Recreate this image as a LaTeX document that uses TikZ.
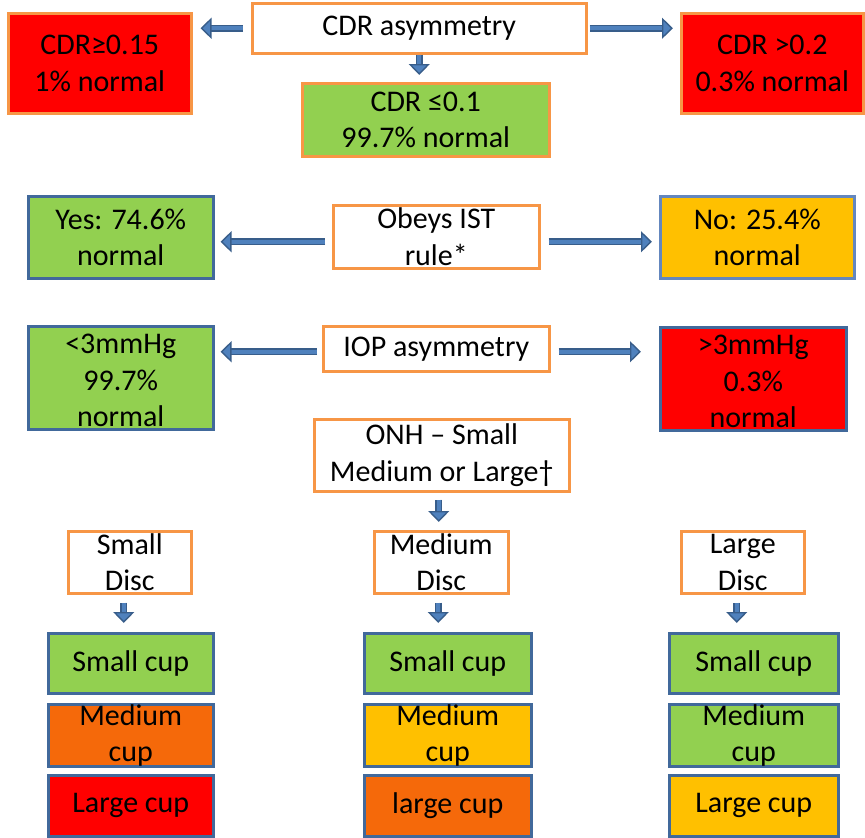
\documentclass[tikz,border=0pt]{standalone}
\usepackage{fontspec}
\setmainfont{Carlito}
\usetikzlibrary{arrows.meta}
\definecolor{bord}{RGB}{247,150,70}
\definecolor{bluebord}{RGB}{65,105,155}
\definecolor{lightbluebord}{RGB}{100,135,190}
\definecolor{gr}{RGB}{146,208,80}
\definecolor{rd}{RGB}{255,0,0}
\definecolor{amb}{RGB}{255,192,0}
\definecolor{org}{RGB}{245,105,10}
\definecolor{arrdark}{RGB}{56,93,138}
\definecolor{arrfill}{RGB}{79,129,189}
\begin{document}
\begin{tikzpicture}[x=1pt,y=-1pt,
  box/.style={draw=bord, line width=2.5pt, fill=white, inner sep=0pt, anchor=north west},
  bbox/.style={box, draw=bluebord},
  txt/.style={align=center, inner sep=0pt, font=\fontsize{30}{36.5}\selectfont},
  arr/.style={draw=arrdark, line width=1.4pt, double=arrfill, double distance=4.4pt,
    -{Triangle[length=11pt,width=21pt,fill=arrfill]}}
]
\useasboundingbox (0,0) rectangle (865,838);

% row 1
\node[box, minimum width=334pt, minimum height=50pt] (cdr) at (251,2) {};
\node[box, fill=rd, minimum width=183pt, minimum height=100pt] (cdrl) at (7,12) {};
\node[box, fill=rd, minimum width=182pt, minimum height=100pt] (cdrr) at (680,12) {};
\node[box, fill=gr, minimum width=247pt, minimum height=73pt] (cdrm) at (301,82) {};
\node[txt] (cdr-t) at (cdr.center) {CDR asymmetry};
\node[txt] (cdrl-t) at (cdrl.center) {CDR≥0.15\\1\% normal};
\node[txt] (cdrr-t) at (cdrr.center) {CDR >0.2\\0.3\% normal};
\node[txt] (cdrm-t) at (cdrm.center) {CDR ≤0.1\\99.7\% normal};

% row 2
\node[bbox, fill=gr, minimum width=185pt, minimum height=82pt] (yes) at (27,195) {};
\node[box, minimum width=206pt, minimum height=63pt] (ist) at (332,204) {};
\node[bbox, draw=lightbluebord, fill=amb, minimum width=194pt, minimum height=82pt] (no) at (659,195) {};
\node[txt] (yes-t) at (yes.center) {Yes: 74.6\%\\normal};
\node[txt] (ist-t) at (ist.center) {Obeys IST\\rule*};
\node[txt] (no-t) at (no.center) {No: 25.4\%\\normal};

% row 3
\node[bbox, fill=gr, minimum width=185pt, minimum height=103pt] (lo) at (27,325) {};
\node[box, minimum width=226pt, minimum height=45pt] (iop) at (322,325) {};
\node[bbox, fill=rd, minimum width=186pt, minimum height=103pt] (hi) at (659,326) {};
\node[txt] (lo-t) at ([yshift=-3pt]lo.center) {<3mmHg\\99.7\%\\normal};
\node[txt] (iop-t) at (iop.center) {IOP asymmetry};
\node[txt] (hi-t) at ([yshift=-3pt]hi.center) {>3mmHg\\0.3\%\\normal};

% ONH
\node[box, minimum width=255pt, minimum height=72pt] (onh) at (313,418) {};
\node[txt] (onh-t) at (onh.center) {ONH – Small\\Medium or Large†};

% discs
\node[box, minimum width=123pt, minimum height=62pt] (sd) at (67,530) {};
\node[box, minimum width=134pt, minimum height=62pt] (md) at (373,530) {};
\node[box, minimum width=123pt, minimum height=62pt] (ld) at (680,530) {};
\node[txt] (sd-t) at (sd.center) {Small\\Disc};
\node[txt] (md-t) at (md.center) {Medium\\Disc};
\node[txt] (ld-t) at (ld.center) {Large\\Disc};

% cups
\node[bbox, fill=gr, minimum width=165pt, minimum height=60pt] (s1) at (47,632) {};
\node[bbox, fill=org, minimum width=165pt, minimum height=62pt] (m1) at (47,703) {};
\node[bbox, fill=rd, minimum width=165pt, minimum height=61pt] (l1) at (47,774) {};
\node[bbox, fill=gr, minimum width=167pt, minimum height=60pt] (s2) at (363,632) {};
\node[bbox, fill=amb, minimum width=167pt, minimum height=62pt] (m2) at (363,703) {};
\node[bbox, fill=org, minimum width=167pt, minimum height=61pt] (l2) at (363,774) {};
\node[bbox, fill=gr, minimum width=169pt, minimum height=60pt] (s3) at (668,632) {};
\node[bbox, fill=gr, minimum width=169pt, minimum height=62pt] (m3) at (668,703) {};
\node[bbox, fill=amb, minimum width=169pt, minimum height=61pt] (l3) at (668,774) {};
\node[txt] (s1-t) at (s1.center) {Small cup};
\node[txt] (m1-t) at (m1.center) {Medium\\cup};
\node[txt] (l1-t) at (l1.center) {Large cup};
\node[txt] (s2-t) at (s2.center) {Small cup};
\node[txt] (m2-t) at (m2.center) {Medium\\cup};
\node[txt] (l2-t) at (l2.center) {large cup};
\node[txt] (s3-t) at (s3.center) {Small cup};
\node[txt] (m3-t) at (m3.center) {Medium\\cup};
\node[txt] (l3-t) at (l3.center) {Large cup};

% arrows
\draw[arr, shorten <=8pt, shorten >=8pt] (cdr.west) -- (cdr.west -| cdrl.east);
\draw[arr, shorten <=2pt, shorten >=7pt] (cdr.east) -- (cdr.east -| cdrr.west);
\draw[arr, shorten >=7pt] (cdr.south) -- (cdr.south |- cdrm.north);

\coordinate (a2) at ([yshift=-5pt]ist.west);
\coordinate (b2) at ([yshift=-5pt]ist.east);
\draw[arr, shorten <=7pt, shorten >=6pt] (a2) -- (a2 -| yes.east);
\draw[arr, shorten <=8pt, shorten >=7pt] (b2) -- (b2 -| no.west);

\coordinate (a3) at ([yshift=-3pt]iop.west);
\coordinate (b3) at ([yshift=-3pt]iop.east);
\draw[arr, shorten <=5pt, shorten >=6pt] (a3) -- (a3 -| lo.east);
\draw[arr, shorten <=8pt, shorten >=18pt] (b3) -- (b3 -| hi.west);

\coordinate (o1) at ([xshift=-3pt]onh.south);
\draw[arr, shorten <=7pt, shorten >=8pt] (o1) -- (o1 |- md.north);
\coordinate (d1) at ([xshift=-6pt]sd.south);
\coordinate (d2) at ([xshift=-3pt]md.south);
\coordinate (d3) at ([xshift=-6pt]ld.south);
\draw[arr, shorten <=8pt, shorten >=9pt] (d1) -- (d1 |- s1.north);
\draw[arr, shorten <=8pt, shorten >=9pt] (d2) -- (d2 |- s2.north);
\draw[arr, shorten <=8pt, shorten >=9pt] (d3) -- (d3 |- s3.north);
\end{tikzpicture}
\end{document}
